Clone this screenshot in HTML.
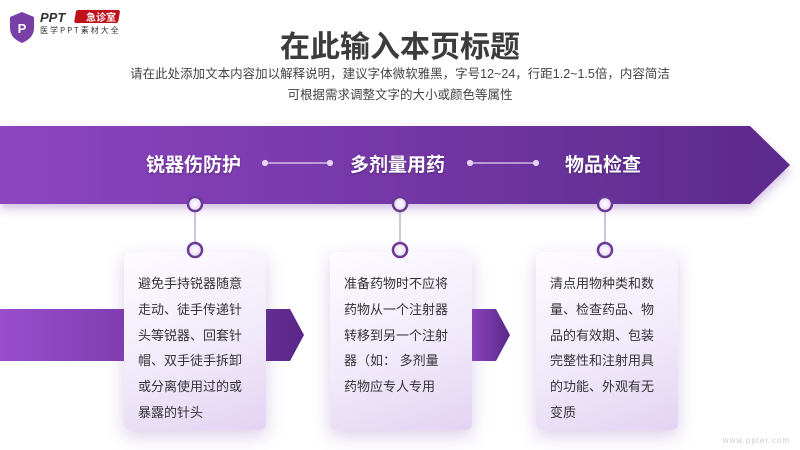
<!DOCTYPE html>
<html><head><meta charset="utf-8"><style>
body{margin:0;width:800px;height:450px;overflow:hidden;background:#fff;font-family:"Liberation Sans","Noto Sans CJK SC",sans-serif;position:relative}
.a{position:absolute}
.card{position:absolute;top:252px;width:142px;height:178px;border-radius:6px;background:linear-gradient(160deg,#fdfcff 0%,#f1eafa 55%,#e3d3f3 100%);box-shadow:0 6px 18px rgba(120,60,170,.25)}
.card p{margin:0;position:absolute;left:14px;top:19px;width:106px;font-size:13px;line-height:25.8px;color:#333}
.h{position:absolute;top:150px;color:#fff;font-weight:bold;font-size:19px;text-shadow:0 1px 2px rgba(0,0,0,.3)}
</style></head><body>
<svg class="a" style="left:0;top:0" width="800" height="450">
<defs>
<linearGradient id="g" x1="0" x2="1"><stop offset="0" stop-color="#8d45c0"/><stop offset="1" stop-color="#5b2a8c"/></linearGradient>
<linearGradient id="g2" x1="0" x2="1"><stop offset="0" stop-color="#9a4dcc"/><stop offset="1" stop-color="#5a2888"/></linearGradient>
<radialGradient id="c"><stop offset="0" stop-color="#fff"/><stop offset="1" stop-color="#e6d8f2"/></radialGradient>
<filter id="s" x="-10%" y="-30%" width="120%" height="180%"><feDropShadow dx="0" dy="5" stdDeviation="5" flood-color="#6a2f9a" flood-opacity=".3"/></filter>
</defs>
<polygon points="0,126 750,126 790,165 750,204 0,204" fill="url(#g)" filter="url(#s)"/>
<polygon points="0,309 290,309 304,335 290,361 0,361" fill="url(#g2)"/>
<polygon points="460,309 496,309 510,335 496,361 460,361" fill="url(#g2)"/>
<g stroke="#e7d3f5" stroke-width="1.2" fill="#e7d3f5">
<line x1="265" y1="163" x2="330" y2="163"/><circle cx="265" cy="163" r="2.5"/><circle cx="330" cy="163" r="2.5"/>
<line x1="470" y1="163" x2="536" y2="163"/><circle cx="470" cy="163" r="2.5"/><circle cx="536" cy="163" r="2.5"/>
</g>
<g stroke="#b59ccc" stroke-width="1.2"><line x1="195" y1="204" x2="195" y2="250"/><line x1="400" y1="204" x2="400" y2="250"/><line x1="605" y1="204" x2="605" y2="250"/></g>
</svg>
<div class="card" style="left:124px"><p>避免手持锐器随意走动、徒手传递针头等锐器、回套针帽、双手徒手拆卸或分离使用过的或暴露的针头</p></div>
<div class="card" style="left:330px"><p>准备药物时不应将药物从一个注射器转移到另一个注射器（如：&nbsp;多剂量药物应专人专用</p></div>
<div class="card" style="left:536px"><p>清点用物种类和数量、检查药品、物品的有效期、包装完整性和注射用具的功能、外观有无变质</p></div>
<svg class="a" style="left:0;top:0" width="800" height="450">
<g fill="url(#c)" stroke="#6a3a96" stroke-width="2.5">
<circle cx="195" cy="204" r="7"/><circle cx="400" cy="204" r="7"/><circle cx="605" cy="204" r="7"/>
<circle cx="195" cy="250" r="7"/><circle cx="400" cy="250" r="7"/><circle cx="605" cy="250" r="7"/>
</g>
<path d="M10,17 L22,12 L34,17 L34,28 Q34,38 22,43 Q10,38 10,28Z" fill="#7a3fa6"/>
<text x="22" y="33" font-size="13" font-weight="bold" fill="#fff" text-anchor="middle" font-family="Liberation Sans">P</text>
<text x="40" y="22" font-size="13" font-weight="bold" fill="#333" font-style="italic" font-family="Liberation Sans">PPT</text>
<rect x="78" y="10" width="44" height="13" rx="2" fill="#c0101a" transform="skewX(-10)"/>
<text x="86" y="21" font-size="10" font-weight="bold" fill="#fff" font-family="Noto Sans CJK SC">急诊室</text>
<text x="40" y="33" font-size="8" fill="#333" letter-spacing="2" font-family="Noto Sans CJK SC">医学PPT素材大全</text>
<text x="790" y="443" font-size="8" fill="#ccc" text-anchor="end" letter-spacing="1">www.ppter.com</text>
</svg>
<div class="a" style="left:0;width:800px;top:22px;text-align:center;font-size:30px;font-weight:bold;color:#3c3c3c">在此输入本页标题</div>
<div class="a" style="left:0;width:800px;top:64px;text-align:center;font-size:12.5px;line-height:21px;color:#444">请在此处添加文本内容加以解释说明，建议字体微软雅黑，字号12~24，行距1.2~1.5倍，内容简洁<br>可根据需求调整文字的大小或颜色等属性</div>
<div class="h" style="left:146px">锐器伤防护</div>
<div class="h" style="left:350px">多剂量用药</div>
<div class="h" style="left:565px">物品检查</div>
</body></html>
